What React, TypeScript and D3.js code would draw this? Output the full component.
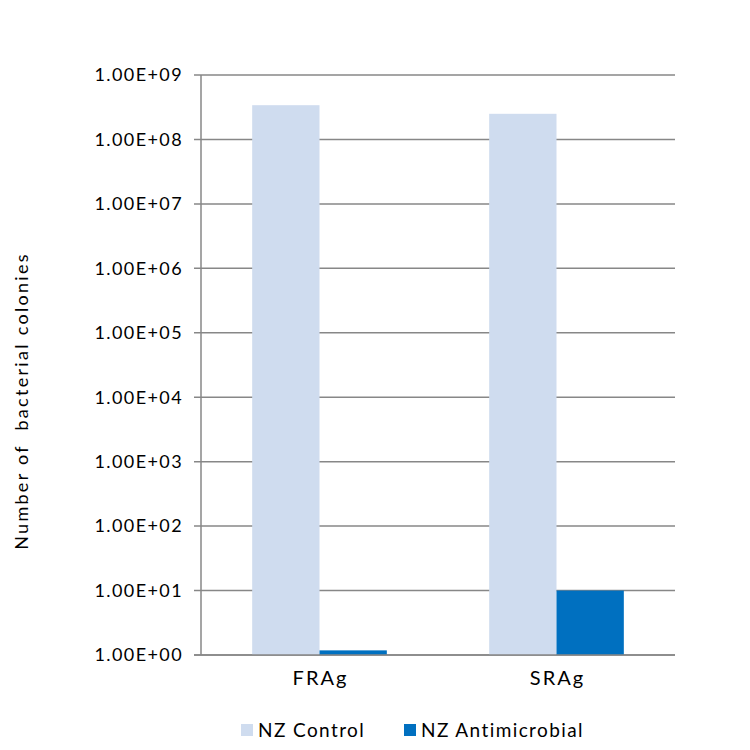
import React, { useEffect, useRef } from 'react';
import * as d3 from 'd3';

const categories = ['FRAg', 'SRAg'];
const seriesNames = ['NZ Control', 'NZ Antimicrobial'];
const controlValues = [3.4e8, 2.5e8];
const antimicrobialValues = [1.18, 10];
const tickValues = [1, 10, 100, 1e3, 1e4, 1e5, 1e6, 1e7, 1e8, 1e9];
const colors = ['#cfdcef', '#0070c0'];

const fmt = (v: number) => {
  const e = Math.round(Math.log10(v));
  return `1.00E+${String(e).padStart(2, '0')}`;
};

const App: React.FC = () => {
  const chartRef = useRef<SVGSVGElement | null>(null);

  useEffect(() => {
    const svg = d3.select(chartRef.current);
    svg.selectAll('*').remove();
    const width = 750;
    const height = 750;
    const margin = { top: 75, right: 75, bottom: 95, left: 201 };
    const font = 'Lato, "DejaVu Sans", sans-serif';

    const x = d3
      .scaleBand()
      .domain(categories)
      .range([margin.left, width - margin.right]);

    const x1 = d3
      .scaleBand()
      .domain(seriesNames)
      .range([0, x.bandwidth()])
      .paddingOuter(0.76)
      .paddingInner(0);

    const y = d3
      .scaleLog()
      .domain([1, 1e9])
      .range([height - margin.bottom, margin.top]);

    // gridlines
    svg
      .append('g')
      .selectAll('line')
      .data(tickValues)
      .join('line')
      .attr('x1', margin.left - 7)
      .attr('x2', width - margin.right)
      .attr('y1', (d) => y(d))
      .attr('y2', (d) => y(d))
      .attr('stroke', '#878787')
      .attr('stroke-width', 1.5);

    svg
      .append('line')
      .attr('x1', margin.left)
      .attr('x2', margin.left)
      .attr('y1', margin.top)
      .attr('y2', height - margin.bottom)
      .attr('stroke', '#878787')
      .attr('stroke-width', 1.5);

    const rows = categories.map((c, i) => ({
      key: c,
      values: [controlValues[i], antimicrobialValues[i]],
    }));

    svg
      .append('g')
      .selectAll('g')
      .data(rows)
      .join('g')
      .attr('transform', (d) => `translate(${x(d.key)},0)`)
      .selectAll('rect')
      .data((d) => d.values.map((v, j) => ({ name: seriesNames[j], v, j })))
      .join('rect')
      .attr('x', (d) => x1(d.name)!)
      .attr('width', x1.bandwidth())
      .attr('y', (d) => y(d.v))
      .attr('height', (d) => y(1) - y(d.v))
      .attr('fill', (d) => colors[d.j]);

    // redraw baseline on top
    svg
      .append('line')
      .attr('x1', margin.left - 7)
      .attr('x2', width - margin.right)
      .attr('y1', y(1))
      .attr('y2', y(1))
      .attr('stroke', '#878787')
      .attr('stroke-width', 1.5);

    svg
      .append('g')
      .selectAll('text')
      .data(tickValues)
      .join('text')
      .attr('x', margin.left - 18)
      .attr('y', (d) => y(d))
      .attr('dy', '0.35em')
      .attr('text-anchor', 'end')
      .attr('font-family', font)
      .attr('font-size', 18)
      .attr('letter-spacing', 1.4)
      .attr('fill', '#000')
      .text((d) => fmt(d));

    svg
      .append('g')
      .selectAll('text')
      .data(categories)
      .join('text')
      .attr('x', (d) => x(d)! + x.bandwidth() / 2 + 1)
      .attr('y', y(1) + 30)
      .attr('text-anchor', 'middle')
      .attr('font-family', font)
      .attr('font-size', 20)
      .attr('letter-spacing', 2)
      .attr('fill', '#000')
      .text((d) => d);

    svg
      .append('text')
      .attr('transform', `translate(28,${401}) rotate(-90)`)
      .attr('text-anchor', 'middle')
      .attr('font-family', font)
      .attr('font-size', 18)
      .attr('letter-spacing', 2.3)
      .attr('fill', '#000')
      .attr('xml:space', 'preserve')
      .text('Number of  bacterial colonies');

    const legendX = [241, 404];
    const legend = svg
      .append('g')
      .selectAll('g')
      .data(seriesNames)
      .join('g')
      .attr('transform', (d, i) => `translate(${legendX[i]},724)`);
    legend
      .append('rect')
      .attr('width', 12)
      .attr('height', 12)
      .attr('fill', (d, i) => colors[i]);
    legend
      .append('text')
      .attr('x', 17)
      .attr('y', 6)
      .attr('dy', '0.35em')
      .attr('font-family', font)
      .attr('font-size', 19)
      .attr('letter-spacing', 1.4)
      .attr('fill', '#000')
      .text((d) => d);
  }, []);

  return (
    <svg ref={chartRef} width={750} height={750} style={{ position: 'absolute', left: 0, top: 0 }}></svg>
  );
};

export default App;
